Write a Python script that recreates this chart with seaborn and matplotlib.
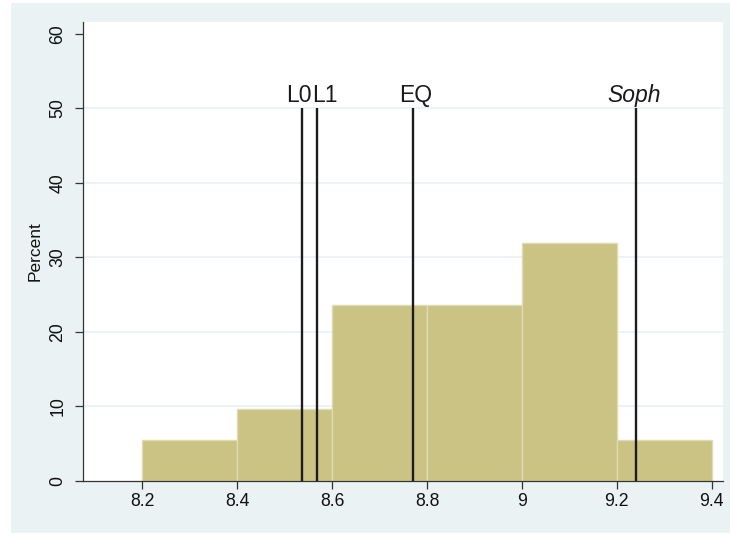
import numpy as np
import pandas as pd
import matplotlib
matplotlib.use("Agg")
import matplotlib.pyplot as plt
import seaborn as sns
from matplotlib.patches import Rectangle

# Histogram bins (percent of 72 observations per bin)
bin_edges = [8.2, 8.4, 8.6, 8.8, 9.0, 9.2, 9.4]
bin_percent = [5.556, 9.722, 23.611, 23.611, 31.944, 5.556]

# Reference lines and their labels
line_values = [8.536, 8.568, 8.771, 9.240]
line_labels = ["L0", "L1", "EQ", "Soph"]
line_styles = ["normal", "normal", "normal", "italic"]
label_dx = [-2.0, 6.0, 1.5, -1.5]

x_ticks = [8.2, 8.4, 8.6, 8.8, 9.0, 9.2, 9.4]
x_ticklabels = ["8.2", "8.4", "8.6", "8.8", "9", "9.2", "9.4"]
y_ticks = [0, 10, 20, 30, 40, 50, 60]

sns.set_style("white")
plt.rcParams["font.family"] = ["Liberation Sans", "DejaVu Sans"]

BG = "#EAF2F3"
BAR = "#CAC383"

fig = plt.figure(figsize=(7.30, 5.34), dpi=100, facecolor="white")
fig.patches.append(Rectangle((11 / 730, 1 / 534), 1.0, 530 / 534,
                             transform=fig.transFigure, facecolor=BG,
                             edgecolor="none", zorder=-10))
ax = fig.add_axes([83 / 730, 53 / 534, 640 / 730, 459 / 534])
ax.set_zorder(1)
ax.set_facecolor("white")

centers = [(a + b) / 2 for a, b in zip(bin_edges[:-1], bin_edges[1:])]
df = pd.DataFrame({"value": centers, "percent": bin_percent})
sns.histplot(data=df, x="value", weights="percent", bins=bin_edges,
             stat="count", color=BAR, alpha=1.0, edgecolor="#DEDAB3",
             linewidth=1.0, ax=ax, zorder=2)

# light horizontal grid
ax.hlines([10, 20, 30, 40, 50], 0, 1, transform=ax.get_yaxis_transform(),
          color=BG, lw=1.3, zorder=1)

ax.vlines(line_values, 0, 50, color="#1c1c1c", lw=1.7, zorder=3)
for v, lab, st, dx in zip(line_values, line_labels, line_styles, label_dx):
    ax.annotate(lab, xy=(v, 50), xytext=(dx, 4.3), textcoords="offset points",
                ha="center", va="baseline", fontsize=16.5, style=st,
                color="#1a1a1a")

ax.set_xlim(8.075, 9.424)
ax.set_ylim(0, 61.6)
ax.set_xticks(x_ticks)
ax.set_xticklabels(x_ticklabels)
ax.set_yticks(y_ticks)
ax.set_yticklabels([str(t) for t in y_ticks], rotation=90, va="center")
ax.tick_params(axis="both", which="major", length=5.5, width=0.9,
               color="#333333", labelsize=12.7, labelcolor="#111111")
ax.tick_params(axis="x", pad=3.5, bottom=True)
ax.tick_params(axis="y", pad=6.5, left=True)
ax.set_xlabel("")
ax.set_ylabel("Percent", fontsize=12.5, labelpad=5, color="#111111")

for side in ["top", "right"]:
    ax.spines[side].set_visible(False)
for side in ["left", "bottom"]:
    ax.spines[side].set_color("#333333")
    ax.spines[side].set_linewidth(0.9)

fig.savefig("out.png", dpi=100, facecolor="white")
